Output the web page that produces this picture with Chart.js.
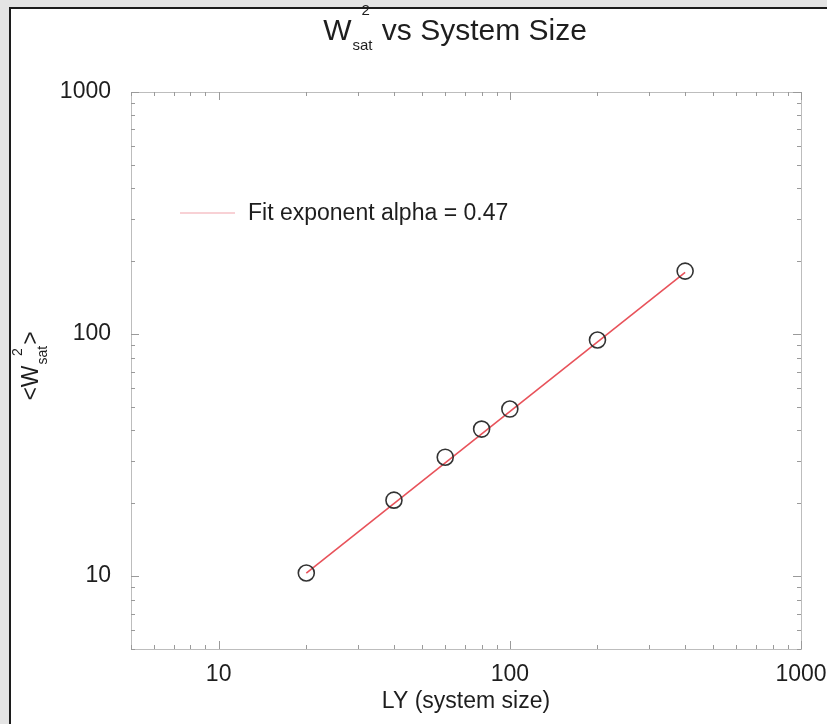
<!DOCTYPE html>
<html lang="en">
<head>
  <meta charset="UTF-8" />
  <title>W_sat^2 vs System Size</title>
  <script src="https://cdn.jsdelivr.net/npm/chart.js"></script>
  <style>
    html, body { margin: 0; padding: 0; }
    body { background: #e4e4e4; width: 827px; height: 724px; overflow: hidden; position: relative; }
    #panel { position: absolute; left: 9px; top: 7px; width: 840px; height: 740px; background: #fff; border: 2px solid #1c1c1c; }
    #chart { position: absolute; left: 0; top: 0; }
  </style>
</head>
<body>
  <div id="panel"></div>
  <canvas id="chart" width="827" height="724"></canvas>

  <script>
    // data
    const systemSize = [20, 40, 60, 80, 100, 200, 400];
    const widthSq = [10.3, 20.6, 31.0, 40.5, 49.0, 94.5, 182];
    const fitX = [20, 400];
    const fitY = [10.3, 180];
    const majorTicks = [10, 100, 1000];
    const legendText = 'Fit exponent alpha = 0.47';

    const FONT = '"Liberation Sans", Arial, sans-serif';
    const TEXT = '#1e1e1e';

    // inward minor/major tick marks on all four sides + box, titles, legend
    const decorations = {
      id: 'decorations',
      afterDraw(chart) {
        const ctx = chart.ctx;
        const a = chart.chartArea;
        const xs = chart.scales.x, ys = chart.scales.y;
        ctx.save();

        // box
        ctx.strokeStyle = '#bdbdbd';
        ctx.lineWidth = 1;
        ctx.strokeRect(Math.round(a.left) + 0.5, Math.round(a.top) + 0.5,
          Math.round(a.right - a.left), Math.round(a.bottom - a.top));

        // tick marks
        ctx.strokeStyle = '#9a9a9a';
        ctx.beginPath();
        [1, 10, 100].forEach(d => {
          for (let m = 1; m <= 10; m++) {
            const v = m * d;
            const len = (m === 1 || m === 10) ? 8 : 4;
            if (v >= xs.min && v <= xs.max) {
              const px = Math.round(xs.getPixelForValue(v)) + 0.5;
              ctx.moveTo(px, a.bottom); ctx.lineTo(px, a.bottom - len);
              ctx.moveTo(px, a.top); ctx.lineTo(px, a.top + len);
            }
            if (v >= ys.min && v <= ys.max) {
              const py = Math.round(ys.getPixelForValue(v)) + 0.5;
              ctx.moveTo(a.left, py); ctx.lineTo(a.left + len, py);
              ctx.moveTo(a.right, py); ctx.lineTo(a.right - len, py);
            }
          }
        });
        ctx.stroke();

        // main title: W_sat^2 vs System Size
        ctx.fillStyle = TEXT;
        ctx.textBaseline = 'alphabetic';
        ctx.textAlign = 'left';
        const big = '30px ' + FONT, small = '15px ' + FONT;
        ctx.font = big;
        const wW = ctx.measureText('W').width;
        const restW = ctx.measureText(' vs System Size').width;
        ctx.font = small;
        const satW = ctx.measureText('sat').width;
        const total = wW + satW + 2 + restW;
        let x = 455 - total / 2;
        const base = 40;
        ctx.font = big; ctx.fillText('W', x, base);
        x += wW + 1;
        ctx.font = small;
        ctx.fillText('sat', x, base + 10);
        ctx.fillText('2', x + satW * 0.45, base - 25);
        x += satW + 1;
        ctx.font = big; ctx.fillText(' vs System Size', x, base);

        // y-axis title: <W_sat^2>, rotated
        ctx.save();
        const mid = '23px ' + FONT, sm = '14px ' + FONT;
        ctx.font = mid;
        const lt = ctx.measureText('<W').width, gt = ctx.measureText('>').width;
        ctx.font = sm;
        const sw = ctx.measureText('sat').width;
        const tot = lt + sw + gt + 2;
        ctx.translate(38, 366);
        ctx.rotate(-Math.PI / 2);
        let lx = -tot / 2;
        ctx.font = mid; ctx.fillText('<W', lx, 0);
        lx += lt + 1;
        ctx.font = sm;
        ctx.fillText('sat', lx, 9);
        ctx.fillText('2', lx + sw * 0.45, -16);
        lx += sw + 1;
        ctx.font = mid; ctx.fillText('>', lx, 0);
        ctx.restore();

        // legend inside the plot
        const lgX = a.left + 49, lgY = a.top + 121;
        ctx.strokeStyle = '#f2a4ab';
        ctx.lineWidth = 1.2;
        ctx.beginPath();
        ctx.moveTo(lgX, lgY); ctx.lineTo(lgX + 55, lgY);
        ctx.stroke();
        ctx.fillStyle = TEXT;
        ctx.font = '23px ' + FONT;
        ctx.textBaseline = 'middle';
        ctx.fillText(legendText, lgX + 68, lgY + 1);

        ctx.restore();
      }
    };

    const majorOnly = scale => { scale.ticks = majorTicks.map(v => ({ value: v })); };

    new Chart(document.getElementById('chart'), {
      type: 'scatter',
      data: {
        datasets: [
          {
            label: 'data',
            data: systemSize.map((v, i) => ({ x: v, y: widthSq[i] })),
            showLine: false,
            pointStyle: 'circle',
            pointRadius: 8,
            pointHoverRadius: 8,
            borderColor: '#333333',
            borderWidth: 1.6,
            backgroundColor: 'rgba(0,0,0,0)'
          },
          {
            label: legendText,
            data: fitX.map((v, i) => ({ x: v, y: fitY[i] })),
            showLine: true,
            borderColor: '#e8525a',
            borderWidth: 1.6,
            pointRadius: 0,
            fill: false
          }
        ]
      },
      options: {
        responsive: false,
        animation: false,
        devicePixelRatio: 1,
        layout: { padding: { left: 0, top: 92, right: 26, bottom: 0 } },
        plugins: {
          legend: { display: false },
          title: { display: false },
          tooltip: { enabled: false }
        },
        scales: {
          x: {
            type: 'logarithmic',
            min: 5,
            max: 1000,
            grid: { display: false },
            border: { display: false },
            afterBuildTicks: majorOnly,
            afterFit: s => { s.height = 75; s.paddingLeft = 0; s.paddingRight = 0; },
            ticks: {
              color: TEXT,
              font: { family: FONT, size: 23 },
              padding: 4,
              maxRotation: 0,
              autoSkip: false,
              callback: v => String(v)
            },
            title: {
              display: true,
              text: 'LY (system size)',
              color: TEXT,
              font: { family: FONT, size: 23 },
              padding: { top: 0, bottom: 9 }
            }
          },
          y: {
            type: 'logarithmic',
            min: 5,
            max: 1000,
            grid: { display: false },
            border: { display: false },
            afterBuildTicks: majorOnly,
            afterFit: s => { s.width = 131; s.paddingTop = 0; s.paddingBottom = 0; },
            ticks: {
              color: TEXT,
              font: { family: FONT, size: 23 },
              padding: 12,
              autoSkip: false,
              callback: v => String(v)
            },
            title: { display: false }
          }
        }
      },
      plugins: [decorations]
    });
  </script>
</body>
</html>
